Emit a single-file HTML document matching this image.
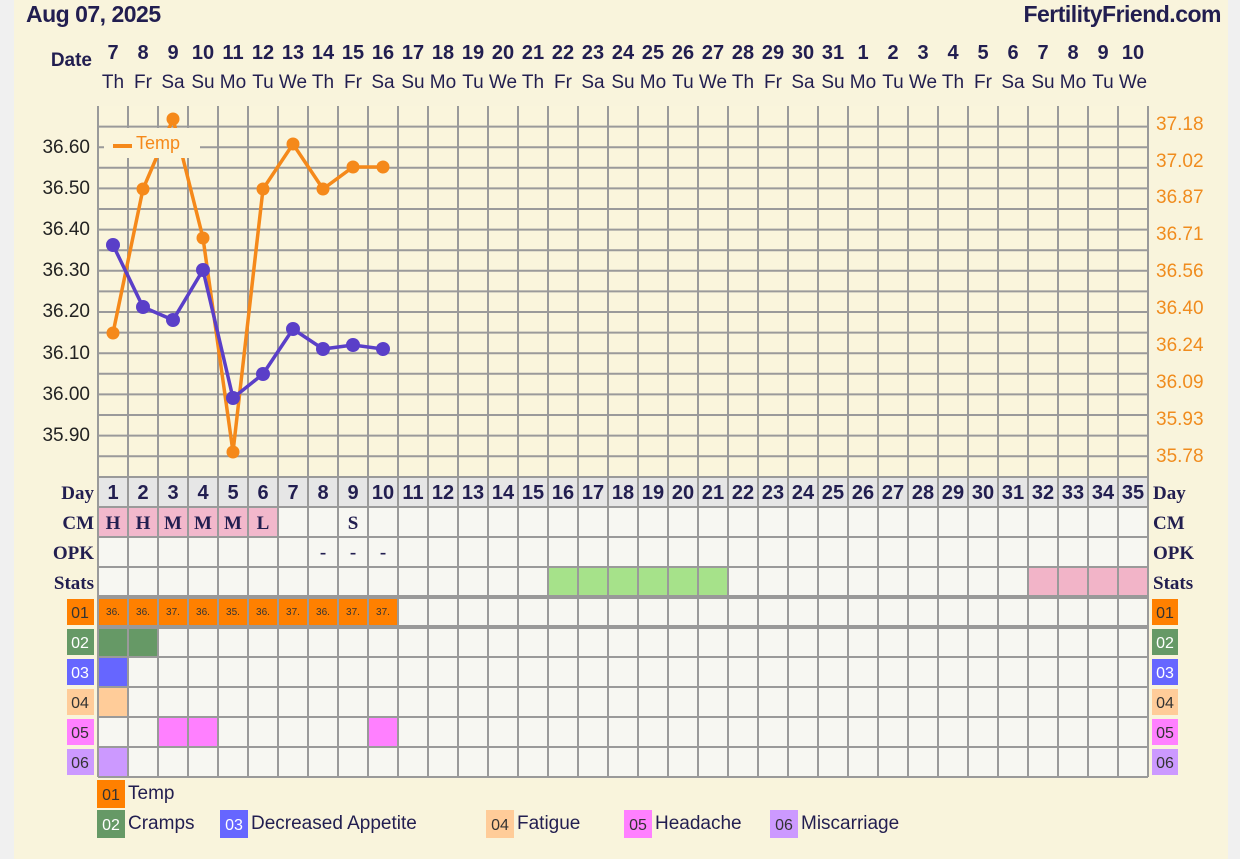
<!DOCTYPE html>
<html><head><meta charset="utf-8"><style>
html,body{margin:0;padding:0;background:#f0f0f0;}
svg{display:block;font-family:"Liberation Sans",sans-serif;}
.dn{font:bold 20px "Liberation Sans",sans-serif;fill:#221e50;text-anchor:middle}
.wd{font:19px "Liberation Sans",sans-serif;fill:#221e50;text-anchor:middle}
.la{font:19px "Liberation Sans",sans-serif;fill:#222;text-anchor:end}
.ra{font:19px "Liberation Sans",sans-serif;fill:#f08c1e}
.rl{font:bold 19px "Liberation Serif",serif;fill:#221e50;text-anchor:end}
.rr{font:bold 19px "Liberation Serif",serif;fill:#221e50}
.cm{font:bold 19px "Liberation Serif",serif;fill:#221e50;text-anchor:middle}
.sm{font:10px "Liberation Sans",sans-serif;fill:#333;text-anchor:middle}
.bx{font:16px "Liberation Sans",sans-serif;text-anchor:middle}
.lg{font:19px "Liberation Sans",sans-serif;fill:#221e50}
</style></head><body>
<svg width="1240" height="859" viewBox="0 0 1240 859">
<rect x="0" y="0" width="1240" height="859" fill="#f0f0f0"/>
<rect x="14" y="0" width="1214" height="859" fill="#f9f4dc"/>
<text x="26" y="22" style="font:bold 23px 'Liberation Sans',sans-serif;fill:#221e50;letter-spacing:-0.5px">Aug 07, 2025</text>
<text x="1221" y="22" text-anchor="end" style="font:bold 23px 'Liberation Sans',sans-serif;fill:#221e50;letter-spacing:-0.5px">FertilityFriend.com</text>
<text x="92" y="66" text-anchor="end" style="font:bold 19px 'Liberation Sans',sans-serif;fill:#221e50">Date</text>
<g class="dn">
<text x="113" y="59">7</text><text x="143" y="59">8</text><text x="173" y="59">9</text><text x="203" y="59">10</text><text x="233" y="59">11</text><text x="263" y="59">12</text><text x="293" y="59">13</text><text x="323" y="59">14</text><text x="353" y="59">15</text><text x="383" y="59">16</text><text x="413" y="59">17</text><text x="443" y="59">18</text><text x="473" y="59">19</text><text x="503" y="59">20</text><text x="533" y="59">21</text><text x="563" y="59">22</text><text x="593" y="59">23</text><text x="623" y="59">24</text><text x="653" y="59">25</text><text x="683" y="59">26</text><text x="713" y="59">27</text><text x="743" y="59">28</text><text x="773" y="59">29</text><text x="803" y="59">30</text><text x="833" y="59">31</text><text x="863" y="59">1</text><text x="893" y="59">2</text><text x="923" y="59">3</text><text x="953" y="59">4</text><text x="983" y="59">5</text><text x="1013" y="59">6</text><text x="1043" y="59">7</text><text x="1073" y="59">8</text><text x="1103" y="59">9</text><text x="1133" y="59">10</text>
</g>
<g class="wd">
<text x="113" y="88">Th</text><text x="143" y="88">Fr</text><text x="173" y="88">Sa</text><text x="203" y="88">Su</text><text x="233" y="88">Mo</text><text x="263" y="88">Tu</text><text x="293" y="88">We</text><text x="323" y="88">Th</text><text x="353" y="88">Fr</text><text x="383" y="88">Sa</text><text x="413" y="88">Su</text><text x="443" y="88">Mo</text><text x="473" y="88">Tu</text><text x="503" y="88">We</text><text x="533" y="88">Th</text><text x="563" y="88">Fr</text><text x="593" y="88">Sa</text><text x="623" y="88">Su</text><text x="653" y="88">Mo</text><text x="683" y="88">Tu</text><text x="713" y="88">We</text><text x="743" y="88">Th</text><text x="773" y="88">Fr</text><text x="803" y="88">Sa</text><text x="833" y="88">Su</text><text x="863" y="88">Mo</text><text x="893" y="88">Tu</text><text x="923" y="88">We</text><text x="953" y="88">Th</text><text x="983" y="88">Fr</text><text x="1013" y="88">Sa</text><text x="1043" y="88">Su</text><text x="1073" y="88">Mo</text><text x="1103" y="88">Tu</text><text x="1133" y="88">We</text>
</g>
<rect x="98" y="106" width="1050" height="371" fill="#faf5dc"/>
<path stroke="#9a9a9a" stroke-width="2" fill="none" d="
M98 106V477M128 106V477M158 106V477M188 106V477M218 106V477M248 106V477M278 106V477M308 106V477M338 106V477M368 106V477M398 106V477M428 106V477M458 106V477M488 106V477M518 106V477M548 106V477M578 106V477M608 106V477M638 106V477M668 106V477M698 106V477M728 106V477M758 106V477M788 106V477M818 106V477M848 106V477M878 106V477M908 106V477M938 106V477M968 106V477M998 106V477M1028 106V477M1058 106V477M1088 106V477M1118 106V477M1148 106V477
M98 126.6H1148M98 147.2H1148M98 167.8H1148M98 188.4H1148M98 209H1148M98 229.6H1148M98 250.2H1148M98 270.8H1148M98 291.4H1148M98 312H1148M98 332.6H1148M98 353.2H1148M98 373.8H1148M98 394.4H1148M98 415H1148M98 435.6H1148M98 456.2H1148"/>
<g class="la">
<text x="90" y="153">36.60</text><text x="90" y="194">36.50</text><text x="90" y="235">36.40</text><text x="90" y="276">36.30</text><text x="90" y="317">36.20</text><text x="90" y="359">36.10</text><text x="90" y="400">36.00</text><text x="90" y="441">35.90</text>
</g>
<g class="ra">
<text x="1156" y="130">37.18</text><text x="1156" y="167">37.02</text><text x="1156" y="203">36.87</text><text x="1156" y="240">36.71</text><text x="1156" y="277">36.56</text><text x="1156" y="314">36.40</text><text x="1156" y="351">36.24</text><text x="1156" y="388">36.09</text><text x="1156" y="425">35.93</text><text x="1156" y="462">35.78</text>
</g>
<polyline fill="none" stroke="#f5891a" stroke-width="3.5" points="113,333 143,189 173,119 203,238 233,452 263,189 293,144 323,189 353,167 383,167"/>
<g fill="#f5891a">
<circle cx="113" cy="333" r="6.5"/><circle cx="143" cy="189" r="6.5"/><circle cx="173" cy="119" r="6.5"/><circle cx="203" cy="238" r="6.5"/><circle cx="233" cy="452" r="6.5"/><circle cx="263" cy="189" r="6.5"/><circle cx="293" cy="144" r="6.5"/><circle cx="323" cy="189" r="6.5"/><circle cx="353" cy="167" r="6.5"/><circle cx="383" cy="167" r="6.5"/>
</g>
<polyline fill="none" stroke="#5a3fc8" stroke-width="3.5" points="113,245 143,307 173,320 203,270 233,398 263,374 293,329 323,349 353,345 383,349"/>
<g fill="#5a3fc8">
<circle cx="113" cy="245" r="7"/><circle cx="143" cy="307" r="7"/><circle cx="173" cy="320" r="7"/><circle cx="203" cy="270" r="7"/><circle cx="233" cy="398" r="7"/><circle cx="263" cy="374" r="7"/><circle cx="293" cy="329" r="7"/><circle cx="323" cy="349" r="7"/><circle cx="353" cy="345" r="7"/><circle cx="383" cy="349" r="7"/>
</g>
<rect x="104" y="128" width="96" height="30" fill="#faf5dc"/>
<rect x="113" y="144" width="19" height="4" fill="#f5891a"/>
<text x="136" y="149" style="font:18px 'Liberation Sans',sans-serif;fill:#f5891a">Temp</text>
<rect x="98" y="477" width="1050" height="300" fill="#f7f7f2"/>
<rect x="98" y="477" width="1050" height="30" fill="#e6e6e6"/>
<rect x="98" y="507" width="180" height="30" fill="#f2b8cc"/>
<rect x="548" y="567" width="180" height="30" fill="#a6e28a"/>
<rect x="1028" y="567" width="120" height="30" fill="#f2b4c8"/>
<rect x="98" y="597" width="300" height="30" fill="#ff8000"/>
<rect x="98" y="627" width="60" height="30" fill="#669966"/>
<rect x="98" y="657" width="30" height="30" fill="#6666ff"/>
<rect x="98" y="687" width="30" height="30" fill="#ffcc99"/>
<rect x="158" y="717" width="60" height="30" fill="#ff80ff"/>
<rect x="368" y="717" width="30" height="30" fill="#ff80ff"/>
<rect x="98" y="747" width="30" height="30" fill="#cc99ff"/>
<path stroke="#9a9a9a" stroke-width="2" fill="none" d="
M98 477V777M128 477V777M158 477V777M188 477V777M218 477V777M248 477V777M278 477V777M308 477V777M338 477V777M368 477V777M398 477V777M428 477V777M458 477V777M488 477V777M518 477V777M548 477V777M578 477V777M608 477V777M638 477V777M668 477V777M698 477V777M728 477V777M758 477V777M788 477V777M818 477V777M848 477V777M878 477V777M908 477V777M938 477V777M968 477V777M998 477V777M1028 477V777M1058 477V777M1088 477V777M1118 477V777M1148 477V777
M98 477H1148M98 507H1148M98 537H1148M98 567H1148M98 657H1148M98 687H1148M98 717H1148M98 747H1148M98 777H1148"/>
<path stroke="#999" stroke-width="4" d="M98 597H1148M98 627H1148"/>
<g class="dn">
<text x="113" y="499">1</text><text x="143" y="499">2</text><text x="173" y="499">3</text><text x="203" y="499">4</text><text x="233" y="499">5</text><text x="263" y="499">6</text><text x="293" y="499">7</text><text x="323" y="499">8</text><text x="353" y="499">9</text><text x="383" y="499">10</text><text x="413" y="499">11</text><text x="443" y="499">12</text><text x="473" y="499">13</text><text x="503" y="499">14</text><text x="533" y="499">15</text><text x="563" y="499">16</text><text x="593" y="499">17</text><text x="623" y="499">18</text><text x="653" y="499">19</text><text x="683" y="499">20</text><text x="713" y="499">21</text><text x="743" y="499">22</text><text x="773" y="499">23</text><text x="803" y="499">24</text><text x="833" y="499">25</text><text x="863" y="499">26</text><text x="893" y="499">27</text><text x="923" y="499">28</text><text x="953" y="499">29</text><text x="983" y="499">30</text><text x="1013" y="499">31</text><text x="1043" y="499">32</text><text x="1073" y="499">33</text><text x="1103" y="499">34</text><text x="1133" y="499">35</text>
</g>
<g class="cm">
<text x="113" y="529">H</text><text x="143" y="529">H</text><text x="173" y="529">M</text><text x="203" y="529">M</text><text x="233" y="529">M</text><text x="263" y="529">L</text><text x="353" y="529">S</text>
<text x="323" y="558">-</text><text x="353" y="558">-</text><text x="383" y="558">-</text>
</g>
<g class="sm">
<text x="113" y="615">36.</text><text x="143" y="615">36.</text><text x="173" y="615">37.</text><text x="203" y="615">36.</text><text x="233" y="615">35.</text><text x="263" y="615">36.</text><text x="293" y="615">37.</text><text x="323" y="615">36.</text><text x="353" y="615">37.</text><text x="383" y="615">37.</text>
</g>
<g class="rl">
<text x="94" y="499">Day</text><text x="94" y="529">CM</text><text x="94" y="559">OPK</text><text x="94" y="589">Stats</text>
</g>
<g class="rr">
<text x="1153" y="499">Day</text><text x="1153" y="529">CM</text><text x="1153" y="559">OPK</text><text x="1153" y="589">Stats</text>
</g>
<g class="bx">
<rect x="67" y="599" width="27" height="26" fill="#ff8000"/><text x="80" y="618" fill="#333">01</text>
<rect x="67" y="629" width="27" height="26" fill="#669966"/><text x="80" y="648" fill="#fff">02</text>
<rect x="67" y="659" width="27" height="26" fill="#6666ff"/><text x="80" y="678" fill="#fff">03</text>
<rect x="67" y="689" width="27" height="26" fill="#ffcc99"/><text x="80" y="708" fill="#333">04</text>
<rect x="67" y="719" width="27" height="26" fill="#ff80ff"/><text x="80" y="738" fill="#333">05</text>
<rect x="67" y="749" width="27" height="26" fill="#cc99ff"/><text x="80" y="768" fill="#333">06</text>
<rect x="1152" y="599" width="26" height="26" fill="#ff8000"/><text x="1165" y="618" fill="#333">01</text>
<rect x="1152" y="629" width="26" height="26" fill="#669966"/><text x="1165" y="648" fill="#fff">02</text>
<rect x="1152" y="659" width="26" height="26" fill="#6666ff"/><text x="1165" y="678" fill="#fff">03</text>
<rect x="1152" y="689" width="26" height="26" fill="#ffcc99"/><text x="1165" y="708" fill="#333">04</text>
<rect x="1152" y="719" width="26" height="26" fill="#ff80ff"/><text x="1165" y="738" fill="#333">05</text>
<rect x="1152" y="749" width="26" height="26" fill="#cc99ff"/><text x="1165" y="768" fill="#333">06</text>
<rect x="97" y="780" width="28" height="28" fill="#ff8000"/><text x="111" y="800" fill="#333">01</text>
<rect x="97" y="810" width="28" height="28" fill="#669966"/><text x="111" y="830" fill="#fff">02</text>
<rect x="220" y="810" width="28" height="28" fill="#6666ff"/><text x="234" y="830" fill="#fff">03</text>
<rect x="486" y="810" width="28" height="28" fill="#ffcc99"/><text x="500" y="830" fill="#333">04</text>
<rect x="624" y="810" width="28" height="28" fill="#ff80ff"/><text x="638" y="830" fill="#333">05</text>
<rect x="770" y="810" width="28" height="28" fill="#cc99ff"/><text x="784" y="830" fill="#333">06</text>
</g>
<g class="lg">
<text x="128" y="799">Temp</text>
<text x="128" y="829">Cramps</text>
<text x="251" y="829">Decreased Appetite</text>
<text x="517" y="829">Fatigue</text>
<text x="655" y="829">Headache</text>
<text x="801" y="829">Miscarriage</text>
</g>
</svg>
</body></html>
